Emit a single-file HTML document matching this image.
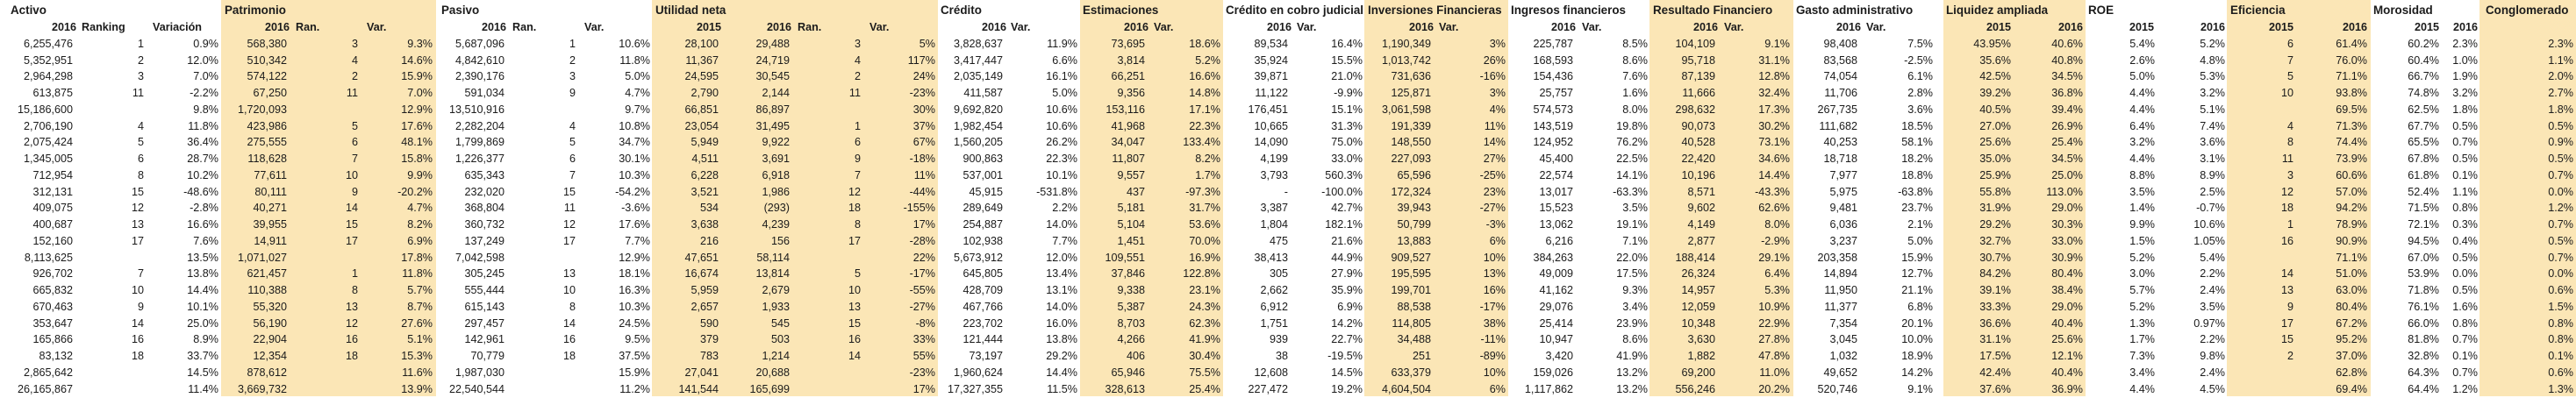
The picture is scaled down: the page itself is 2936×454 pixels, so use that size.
<!DOCTYPE html>
<html><head><meta charset="utf-8">
<style>
html,body{margin:0;padding:0;background:#fff;}
#sheet{position:relative;width:2936px;height:454px;overflow:hidden;font-family:"Liberation Sans",Arial,sans-serif;font-size:12.6px;color:#1b1b1b;}
.bg{position:absolute;top:0;height:452px;background:#fbe6b6;}
.c{position:absolute;white-space:nowrap;line-height:16px;height:16px;}
.r{text-align:right;}
.b{font-weight:bold;}
.t{font-weight:bold;font-size:13.4px;}
</style></head>
<body>
<div id="sheet"></div>
<script>
const rowTop = 50, rowPitch = 18.74;
const activo = "6,255,476|5,352,951|2,964,298|613,875|15,186,600|2,706,190|2,075,424|1,345,005|712,954|312,131|409,075|400,687|152,160|8,113,625|926,702|665,832|670,463|353,647|165,866|83,132|2,865,642|26,165,867".split("|");
const activoRank = "1|2|3|11||4|5|6|8|15|12|13|17||7|10|9|14|16|18||".split("|");
const activoVar = "0.9%|12.0%|7.0%|-2.2%|9.8%|11.8%|36.4%|28.7%|10.2%|-48.6%|-2.8%|16.6%|7.6%|13.5%|13.8%|14.4%|10.1%|25.0%|8.9%|33.7%|14.5%|11.4%".split("|");
const patrimonio = "568,380|510,342|574,122|67,250|1,720,093|423,986|275,555|118,628|77,611|80,111|40,271|39,955|14,911|1,071,027|621,457|110,388|55,320|56,190|22,904|12,354|878,612|3,669,732".split("|");
const patRank = "3|4|2|11||5|6|7|10|9|14|15|17||1|8|13|12|16|18||".split("|");
const patVar = "9.3%|14.6%|15.9%|7.0%|12.9%|17.6%|48.1%|15.8%|9.9%|-20.2%|4.7%|8.2%|6.9%|17.8%|11.8%|5.7%|8.7%|27.6%|5.1%|15.3%|11.6%|13.9%".split("|");
const pasivo = "5,687,096|4,842,610|2,390,176|591,034|13,510,916|2,282,204|1,799,869|1,226,377|635,343|232,020|368,804|360,732|137,249|7,042,598|305,245|555,444|615,143|297,457|142,961|70,779|1,987,030|22,540,544".split("|");
const pasRank = "1|2|3|9||4|5|6|7|15|11|12|17||13|10|8|14|16|18||".split("|");
const pasVar = "10.6%|11.8%|5.0%|4.7%|9.7%|10.8%|34.7%|30.1%|10.3%|-54.2%|-3.6%|17.6%|7.7%|12.9%|18.1%|16.3%|10.3%|24.5%|9.5%|37.5%|15.9%|11.2%".split("|");
const util2015 = "28,100|11,367|24,595|2,790|66,851|23,054|5,949|4,511|6,228|3,521|534|3,638|216|47,651|16,674|5,959|2,657|590|379|783|27,041|141,544".split("|");
const util2016 = "29,488|24,719|30,545|2,144|86,897|31,495|9,922|3,691|6,918|1,986|(293)|4,239|156|58,114|13,814|2,679|1,933|545|503|1,214|20,688|165,699".split("|");
const utilRank = "3|4|2|11||1|6|9|7|12|18|8|17||5|10|13|15|16|14||".split("|");
const utilVar = "5%|117%|24%|-23%|30%|37%|67%|-18%|11%|-44%|-155%|17%|-28%|22%|-17%|-55%|-27%|-8%|33%|55%|-23%|17%".split("|");
const credito = "3,828,637|3,417,447|2,035,149|411,587|9,692,820|1,982,454|1,560,205|900,863|537,001|45,915|289,649|254,887|102,938|5,673,912|645,805|428,709|467,766|223,702|121,444|73,197|1,960,624|17,327,355".split("|");
const credVar = "11.9%|6.6%|16.1%|5.0%|10.6%|10.6%|26.2%|22.3%|10.1%|-531.8%|2.2%|14.0%|7.7%|12.0%|13.4%|13.1%|14.0%|16.0%|13.8%|29.2%|14.4%|11.5%".split("|");
const estim = "73,695|3,814|66,251|9,356|153,116|41,968|34,047|11,807|9,557|437|5,181|5,104|1,451|109,551|37,846|9,338|5,387|8,703|4,266|406|65,946|328,613".split("|");
const estVar = "18.6%|5.2%|16.6%|14.8%|17.1%|22.3%|133.4%|8.2%|1.7%|-97.3%|31.7%|53.6%|70.0%|16.9%|122.8%|23.1%|24.3%|62.3%|41.9%|30.4%|75.5%|25.4%".split("|");
const cobro = "89,534|35,924|39,871|11,122|176,451|10,665|14,090|4,199|3,793|-|3,387|1,804|475|38,413|305|2,662|6,912|1,751|939|38|12,608|227,472".split("|");
const cobroVar = "16.4%|15.5%|21.0%|-9.9%|15.1%|31.3%|75.0%|33.0%|560.3%|-100.0%|42.7%|182.1%|21.6%|44.9%|27.9%|35.9%|6.9%|14.2%|22.7%|-19.5%|14.5%|19.2%".split("|");
const invers = "1,190,349|1,013,742|731,636|125,871|3,061,598|191,339|148,550|227,093|65,596|172,324|39,943|50,799|13,883|909,527|195,595|199,701|88,538|114,805|34,488|251|633,379|4,604,504".split("|");
const invVar = "3%|26%|-16%|3%|4%|11%|14%|27%|-25%|23%|-27%|-3%|6%|10%|13%|16%|-17%|38%|-11%|-89%|10%|6%".split("|");
const ingresos = "225,787|168,593|154,436|25,757|574,573|143,519|124,952|45,400|22,574|13,017|15,523|13,062|6,216|384,263|49,009|41,162|29,076|25,414|10,947|3,420|159,026|1,117,862".split("|");
const ingVar = "8.5%|8.6%|7.6%|1.6%|8.0%|19.8%|76.2%|22.5%|14.1%|-63.3%|3.5%|19.1%|7.1%|22.0%|17.5%|9.3%|3.4%|23.9%|8.6%|41.9%|13.2%|13.2%".split("|");
const resultado = "104,109|95,718|87,139|11,666|298,632|90,073|40,528|22,420|10,196|8,571|9,602|4,149|2,877|188,414|26,324|14,957|12,059|10,348|3,630|1,882|69,200|556,246".split("|");
const resVar = "9.1%|31.1%|12.8%|32.4%|17.3%|30.2%|73.1%|34.6%|14.4%|-43.3%|62.6%|8.0%|-2.9%|29.1%|6.4%|5.3%|10.9%|22.9%|27.8%|47.8%|11.0%|20.2%".split("|");
const gasto = "98,408|83,568|74,054|11,706|267,735|111,682|40,253|18,718|7,977|5,975|9,481|6,036|3,237|203,358|14,894|11,950|11,377|7,354|3,045|1,032|49,652|520,746".split("|");
const gasVar = "7.5%|-2.5%|6.1%|2.8%|3.6%|18.5%|58.1%|18.2%|18.8%|-63.8%|23.7%|2.1%|5.0%|15.9%|12.7%|21.1%|6.8%|20.1%|10.0%|18.9%|14.2%|9.1%".split("|");
const liq2015 = "43.95%|35.6%|42.5%|39.2%|40.5%|27.0%|25.6%|35.0%|25.9%|55.8%|31.9%|29.2%|32.7%|30.7%|84.2%|39.1%|33.3%|36.6%|31.1%|17.5%|42.4%|37.6%".split("|");
const liq2016 = "40.6%|40.8%|34.5%|36.8%|39.4%|26.9%|25.4%|34.5%|25.0%|113.0%|29.0%|30.3%|33.0%|30.9%|80.4%|38.4%|29.0%|40.4%|25.6%|12.1%|40.4%|36.9%".split("|");
const roe2015 = "5.4%|2.6%|5.0%|4.4%|4.4%|6.4%|3.2%|4.4%|8.8%|3.5%|1.4%|9.9%|1.5%|5.2%|3.0%|5.7%|5.2%|1.3%|1.7%|7.3%|3.4%|4.4%".split("|");
const roe2016 = "5.2%|4.8%|5.3%|3.2%|5.1%|7.4%|3.6%|3.1%|8.9%|2.5%|-0.7%|10.6%|1.05%|5.4%|2.2%|2.4%|3.5%|0.97%|2.2%|9.8%|2.4%|4.5%".split("|");
const efi2015 = "6|7|5|10||4|8|11|3|12|18|1|16||14|13|9|17|15|2||".split("|");
const efi2016 = "61.4%|76.0%|71.1%|93.8%|69.5%|71.3%|74.4%|73.9%|60.6%|57.0%|94.2%|78.9%|90.9%|71.1%|51.0%|63.0%|80.4%|67.2%|95.2%|37.0%|62.8%|69.4%".split("|");
const mor2015 = "60.2%|60.4%|66.7%|74.8%|62.5%|67.7%|65.5%|67.8%|61.8%|52.4%|71.5%|72.1%|94.5%|67.0%|53.9%|71.8%|76.1%|66.0%|81.8%|32.8%|64.3%|64.4%".split("|");
const mor2016 = "2.3%|1.0%|1.9%|3.2%|1.8%|0.5%|0.7%|0.5%|0.1%|1.1%|0.8%|0.3%|0.4%|0.5%|0.0%|0.5%|1.6%|0.8%|0.7%|0.1%|0.7%|1.2%".split("|");
const cong = "2.3%|1.1%|2.0%|2.7%|1.8%|0.5%|0.9%|0.5%|0.7%|0.0%|1.2%|0.7%|0.5%|0.7%|0.0%|0.6%|1.5%|0.8%|0.8%|0.1%|0.6%|1.3%".split("|");

const sheet = document.getElementById('sheet');
// shaded group backgrounds [left, right]
const bands = [[252,497],[743,1069],[1231,1394],[1555,1719],[1880,2044],[2215,2377],[2538,2702],[2826,2936]];
bands.forEach(function(b){
  const d = document.createElement('div');
  d.className = 'bg';
  d.style.left = b[0]+'px'; d.style.width = (b[1]-b[0])+'px';
  
  
  sheet.appendChild(d);
});
function txt(s, x, y, right, cls, name){
  const d = document.createElement('div');
  d.className = 'c' + (cls ? ' '+cls : '') + (right ? ' r' : '');
  d.textContent = s;
  if (right) { d.style.left = (x-200)+'px'; d.style.width = '200px'; }
  else d.style.left = x+'px';
  d.style.top = (y-8)+'px';
  
  
  sheet.appendChild(d);
}
// group titles
const titles = [["Activo",12],["Patrimonio",256],["Pasivo",503],["Utilidad neta",747],["Crédito",1072],["Estimaciones",1234],["Crédito en cobro judicial",1397],["Inversiones Financieras",1559],["Ingresos financieros",1722],["Resultado Financiero",1884],["Gasto administrativo",2047],["Liquidez ampliada",2218],["ROE",2380],["Eficiencia",2542],["Morosidad",2705],["Conglomerado",2833]];
titles.forEach(function(t){ txt(t[0], t[1], 12, false, 't', 'group-title'); });
// sub headers: [text, x, rightAligned]
const subs = [["2016",87,1],["Ranking",93,0],["Variación",174,0],["2016",330,1],["Ran.",337,0],["Var.",418,0],
["2016",577,1],["Ran.",584,0],["Var.",666,0],["2015",822,1],["2016",902,1],["Ran.",909,0],["Var.",991,0],
["2016",1147,1],["Var.",1152,0],["2016",1309,1],["Var.",1315,0],["2016",1472,1],["Var.",1478,0],
["2016",1634,1],["Var.",1640,0],["2016",1796,1],["Var.",1803,0],["2016",1958,1],["Var.",1965,0],
["2016",2121,1],["Var.",2127,0],["2015",2292,1],["2016",2374,1],["2015",2455,1],["2016",2536,1],
["2015",2614,1],["2016",2698,1],["2015",2780,1],["2016",2824,1]];
subs.forEach(function(s){ txt(s[0], s[1], 31, s[2]===1, 'b', 'column-header'); });
// data columns: [array, right edge, name]
const cols = [[activo,83,'activo-2016'],[activoRank,164,'activo-ranking'],[activoVar,249,'activo-variacion'],
[patrimonio,327,'patrimonio-2016'],[patRank,408,'patrimonio-ranking'],[patVar,493,'patrimonio-var'],
[pasivo,575,'pasivo-2016'],[pasRank,656,'pasivo-ranking'],[pasVar,741,'pasivo-var'],
[util2015,819,'utilidad-2015'],[util2016,900,'utilidad-2016'],[utilRank,981,'utilidad-ranking'],[utilVar,1066,'utilidad-var'],
[credito,1143,'credito-2016'],[credVar,1228,'credito-var'],[estim,1305,'estimaciones-2016'],[estVar,1391,'estimaciones-var'],
[cobro,1468,'cobro-judicial-2016'],[cobroVar,1553,'cobro-judicial-var'],[invers,1631,'inversiones-2016'],[invVar,1716,'inversiones-var'],
[ingresos,1793,'ingresos-2016'],[ingVar,1878,'ingresos-var'],[resultado,1955,'resultado-2016'],[resVar,2040,'resultado-var'],
[gasto,2117,'gasto-2016'],[gasVar,2203,'gasto-var'],[liq2015,2292,'liquidez-2015'],[liq2016,2374,'liquidez-2016'],
[roe2015,2456,'roe-2015'],[roe2016,2536,'roe-2016'],[efi2015,2614,'eficiencia-2015'],[efi2016,2698,'eficiencia-2016'],
[mor2015,2780,'morosidad-2015'],[mor2016,2824,'morosidad-2016'],[cong,2933,'conglomerado']];
cols.forEach(function(col){
  col[0].forEach(function(v, i){
    if (v === '') return;
    txt(v, col[1], rowTop + i*rowPitch, true, '', col[2]+'-cell');
  });
});
</script>
</body></html>
